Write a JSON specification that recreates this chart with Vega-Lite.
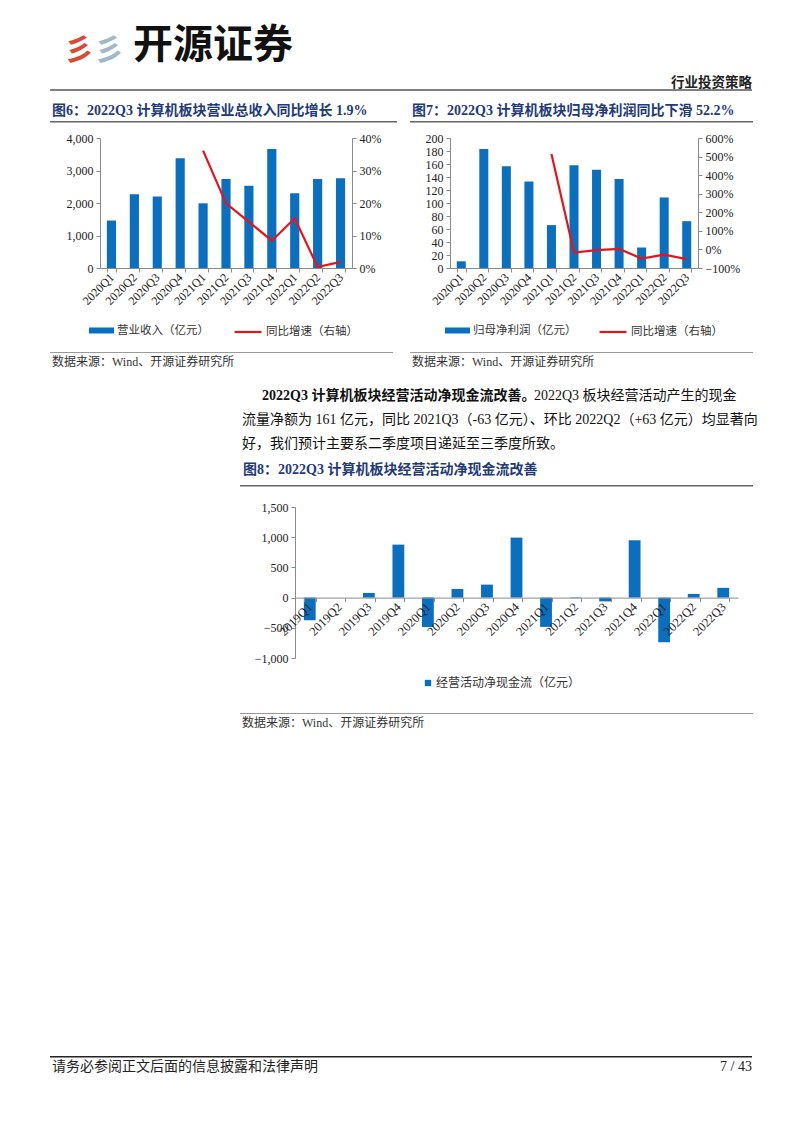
{
"$schema": "https://vega.github.io/schema/vega-lite/v6.json",
"padding": 0,
"background": "white",
"spacing": 0,
"resolve": {"scale": {"fill": "independent", "stroke": "independent"}},
"datasets": {
"empty": [],
"rev": [
{"q":"2020Q1","rev":1460,"yoy":null},
{"q":"2020Q2","rev":2270,"yoy":null},
{"q":"2020Q3","rev":2200,"yoy":null},
{"q":"2020Q4","rev":3380,"yoy":null},
{"q":"2021Q1","rev":1990,"yoy":0.361},
{"q":"2021Q2","rev":2735,"yoy":0.199},
{"q":"2021Q3","rev":2530,"yoy":0.142},
{"q":"2021Q4","rev":3660,"yoy":0.084},
{"q":"2022Q1","rev":2300,"yoy":0.153},
{"q":"2022Q2","rev":2742,"yoy":0.003},
{"q":"2022Q3","rev":2765,"yoy":0.019}],
"np": [
{"q":"2020Q1","np":10.3,"yoy":null},
{"q":"2020Q2","np":183,"yoy":null},
{"q":"2020Q3","np":156.5,"yoy":null},
{"q":"2020Q4","np":133,"yoy":null},
{"q":"2021Q1","np":66,"yoy":5.14},
{"q":"2021Q2","np":158,"yoy":-0.17},
{"q":"2021Q3","np":151,"yoy":-0.04},
{"q":"2021Q4","np":137,"yoy":0.03},
{"q":"2022Q1","np":31.5,"yoy":-0.49},
{"q":"2022Q2","np":108.5,"yoy":-0.28},
{"q":"2022Q3","np":72,"yoy":-0.522}],
"cf": [
{"q":"2019Q1","cf":-375},
{"q":"2019Q2","cf":0},
{"q":"2019Q3","cf":77},
{"q":"2019Q4","cf":877},
{"q":"2020Q1","cf":-485},
{"q":"2020Q2","cf":143},
{"q":"2020Q3","cf":215},
{"q":"2020Q4","cf":993},
{"q":"2021Q1","cf":-485},
{"q":"2021Q2","cf":-8},
{"q":"2021Q3","cf":-63},
{"q":"2021Q4","cf":949},
{"q":"2022Q1","cf":-739},
{"q":"2022Q2","cf":61},
{"q":"2022Q3","cf":161}],
"para": [
{"line":1,"seg":"b","text":"2022Q3 计算机板块经营活动净现金流改善。"},
{"line":1,"seg":"n1","text":"2022Q3 板块经营活动产生的现金"},
{"line":2,"seg":"n","text":"流量净额为 161 亿元，同比 2021Q3（-63 亿元）、环比 2022Q2（+63 亿元）均显著向"},
{"line":3,"seg":"n","text":"好，我们预计主要系二季度项目递延至三季度所致。"}]
},
"vconcat": [
{"hconcat": [
 {"width":50,"height":89,"data":{"name":"empty"},"mark":{"type":"point","opacity":0},
  "title":{"text":"彡","orient":"top","offset":-66,"dx":64,"font":"'Noto Sans CJK SC', sans-serif","fontSize":30,"fontWeight":"bold","color":"#D94A32"}},
 {"width":1,"height":89,"data":{"name":"empty"},"mark":{"type":"point","opacity":0},
  "title":{"text":"彡","orient":"top","offset":-66,"dx":44,"font":"'Noto Sans CJK SC', sans-serif","fontSize":30,"fontWeight":"bold","color":"#A3B8C6"}},
 {"width":350,"height":89,"data":{"name":"empty"},"mark":{"type":"point","opacity":0},
  "title":{"text":"开源证券","orient":"top","offset":-66,"dx":82,"font":"'Noto Sans CJK SC', sans-serif","fontSize":40,"fontWeight":"bold","color":"#111111"}},
 {"width":351,"height":89,"data":{"name":"empty"},"mark":{"type":"point","opacity":0},
  "title":{"text":"行业投资策略","orient":"top","anchor":"end","offset":-89,"font":"'Noto Sans CJK SC', sans-serif","fontSize":13.5,"fontWeight":"bold","color":"#222222"}}
 ], "spacing":0, "bounds":"flush"},

{"hconcat": [
 {"width":50,"height":32,"data":{"name":"empty"},"mark":{"type":"point","opacity":0}},
 {"width":351,"height":2,"view":{"fill":"#7f7f7f"},"data":{"name":"empty"},"mark":{"type":"point","opacity":0},
  "title":{"text":"图6：2022Q3 计算机板块营业总收入同比增长 1.9%","orient":"bottom","dx":2,"offset":13}},
 {"width":351,"height":2,"view":{"fill":"#7f7f7f"},"data":{"name":"empty"},"mark":{"type":"point","opacity":0},
  "title":{"text":"图7：2022Q3 计算机板块归母净利润同比下滑 52.2%","orient":"bottom","dx":11,"offset":13}}
 ], "spacing":0, "bounds":"flush"},

{"hconcat": [
 {"width":50,"height":11,"data":{"name":"empty"},"mark":{"type":"point","opacity":0}},
 {"width":347,"height":1.5,"view":{"fill":"#666666"},"data":{"name":"empty"},"mark":{"type":"point","opacity":0}},
 {"width":13,"height":1,"data":{"name":"empty"},"mark":{"type":"point","opacity":0}},
 {"width":343,"height":1.5,"view":{"fill":"#666666"},"data":{"name":"empty"},"mark":{"type":"point","opacity":0}}
 ], "spacing":0, "bounds":"flush"},

{"hconcat": [
 {"width":100,"height":214,"data":{"name":"empty"},"mark":{"type":"point","opacity":0}},
 {"width":252,"height":130,"data":{"name":"rev"},
  "encoding":{"x":{"field":"q","type":"ordinal","sort":null,"scale":{"paddingInner":0.6,"paddingOuter":0.3},
    "axis":{"labelAngle":-45,"labelAlign":"right","labelBaseline":"middle","tickBand":"extent"}}},
  "layer":[
   {"mark":{"type":"bar"},
    "encoding":{"y":{"field":"rev","type":"quantitative","scale":{"domain":[0,4000],"nice":false},"axis":{"values":[0,1000,2000,3000,4000],"format":",d"}},
      "fill":{"datum":"营业收入（亿元）","scale":{"range":["#0B6FBF"]},
        "legend":{"orient":"none","legendX":-11,"legendY":180,"symbolType":"M-1,-0.24H1V0.24H-1Z","symbolSize":625,"symbolStrokeWidth":0}}}},
   {"mark":{"type":"line","strokeWidth":2.2},
    "encoding":{"y":{"field":"yoy","type":"quantitative","scale":{"domain":[0,0.4],"nice":false},"axis":{"orient":"right","values":[0,0.1,0.2,0.3,0.4],"format":".0%"}},
      "stroke":{"datum":"同比增速（右轴）","scale":{"range":["#E8141B"]},
        "legend":{"orient":"none","legendX":133,"legendY":179,"symbolType":"M-1,0H1","symbolSize":729,"symbolStrokeWidth":2.2}}}}
  ],
  "resolve":{"scale":{"y":"independent"}}},
 {"width":98,"height":1,"data":{"name":"empty"},"mark":{"type":"point","opacity":0}},
 {"width":248,"height":130,"data":{"name":"np"},
  "encoding":{"x":{"field":"q","type":"ordinal","sort":null,"scale":{"paddingInner":0.6,"paddingOuter":0.3},
    "axis":{"labelAngle":-45,"labelAlign":"right","labelBaseline":"middle","tickBand":"extent"}}},
  "layer":[
   {"mark":{"type":"bar"},
    "encoding":{"y":{"field":"np","type":"quantitative","scale":{"domain":[0,200],"nice":false},"axis":{"values":[0,20,40,60,80,100,120,140,160,180,200],"format":"d"}},
      "fill":{"datum":"归母净利润（亿元）","scale":{"range":["#0B6FBF"]},
        "legend":{"orient":"none","legendX":-5,"legendY":180,"symbolType":"M-1,-0.24H1V0.24H-1Z","symbolSize":625,"symbolStrokeWidth":0}}}},
   {"mark":{"type":"line","strokeWidth":2.2},
    "encoding":{"y":{"field":"yoy","type":"quantitative","scale":{"domain":[-1,6],"nice":false},"axis":{"orient":"right","values":[-1,0,1,2,3,4,5,6],"format":".0%"}},
      "stroke":{"datum":"同比增速（右轴）","scale":{"range":["#E8141B"]},
        "legend":{"orient":"none","legendX":148,"legendY":179,"symbolType":"M-1,0H1","symbolSize":729,"symbolStrokeWidth":2.2}}}}
  ],
  "resolve":{"scale":{"y":"independent"}}}
 ], "spacing":0, "bounds":"flush", "resolve": {"scale": {"fill": "independent", "stroke": "independent"}}},

{"hconcat": [
 {"width":50,"height":32,"data":{"name":"empty"},"mark":{"type":"point","opacity":0}},
 {"width":343,"height":1,"view":{"fill":"#9a9a9a"},"data":{"name":"empty"},"mark":{"type":"point","opacity":0},
  "title":{"text":"数据来源：Wind、开源证券研究所","orient":"bottom","offset":4,"dx":2,"fontSize":12,"fontWeight":"normal","color":"#333333"}},
 {"width":17,"height":1,"data":{"name":"empty"},"mark":{"type":"point","opacity":0}},
 {"width":343,"height":1,"view":{"fill":"#9a9a9a"},"data":{"name":"empty"},"mark":{"type":"point","opacity":0},
  "title":{"text":"数据来源：Wind、开源证券研究所","orient":"bottom","offset":4,"dx":2,"fontSize":12,"fontWeight":"normal","color":"#333333"}}
 ], "spacing":0, "bounds":"flush"},

{"hconcat": [
 {"width":242,"height":101,"data":{"name":"empty"},"mark":{"type":"point","opacity":0}},
 {"width":510,"height":72,"data":{"name":"para"},
  "title":{"text":"图8：2022Q3 计算机板块经营活动净现金流改善","orient":"bottom","dx":1,"offset":7},
  "encoding":{"y":{"field":"line","type":"ordinal","axis":null},"text":{"field":"text"}},
  "layer":[
   {"transform":[{"filter":"datum.seg === 'b'"}],
    "mark":{"type":"text","align":"left","baseline":"middle","dx":-235,"font":"'Liberation Serif', 'Noto Sans CJK SC', serif","fontSize":14,"fontWeight":"bold","color":"#111111"}},
   {"transform":[{"filter":"datum.seg === 'n1'"}],
    "mark":{"type":"text","align":"left","baseline":"middle","dx":37,"font":"'Liberation Serif', 'Noto Sans CJK SC', serif","fontSize":14,"color":"#111111"}},
   {"transform":[{"filter":"datum.seg === 'n'"}],
    "mark":{"type":"text","align":"left","baseline":"middle","dx":-255,"font":"'Liberation Serif', 'Noto Sans CJK SC', serif","fontSize":14,"color":"#111111"}}
  ]}
 ], "spacing":0, "bounds":"flush"},

{"hconcat": [
 {"width":240,"height":16,"data":{"name":"empty"},"mark":{"type":"point","opacity":0}},
 {"width":513,"height":1.5,"view":{"fill":"#666666"},"data":{"name":"empty"},"mark":{"type":"point","opacity":0}}
 ], "spacing":0, "bounds":"flush"},

{"hconcat": [
 {"width":295,"height":206,"data":{"name":"empty"},"mark":{"type":"point","opacity":0}},
 {"width":443,"height":151,"data":{"name":"cf"},
  "mark":{"type":"bar"},
  "encoding":{
   "x":{"field":"q","type":"ordinal","sort":null,"scale":{"paddingInner":0.6,"paddingOuter":0.3},
    "axis":{"offset":-60.4,"zindex":1,"labelAngle":-45,"labelAlign":"right","labelBaseline":"middle","tickBand":"extent","labelFontSize":12.5}},
   "y":{"field":"cf","type":"quantitative","scale":{"domain":[-1000,1500],"nice":false},
    "axis":{"values":[-1000,-500,0,500,1000,1500],"format":",d"}},
   "fill":{"datum":"经营活动净现金流（亿元）","scale":{"range":["#0B6FBF"]},
    "legend":{"orient":"none","legendX":127,"legendY":170,"symbolType":"square","symbolSize":40,"symbolStrokeWidth":0,"labelFontSize":12,"labelOffset":2}}}}
 ], "spacing":0, "bounds":"flush", "resolve": {"scale": {"fill": "independent"}}},

{"hconcat": [
 {"width":240,"height":343,"data":{"name":"empty"},"mark":{"type":"point","opacity":0}},
 {"width":513,"height":1,"view":{"fill":"#9a9a9a"},"data":{"name":"empty"},"mark":{"type":"point","opacity":0},
  "title":{"text":"数据来源：Wind、开源证券研究所","orient":"bottom","offset":4,"dx":2,"fontSize":12,"fontWeight":"normal","color":"#333333"}}
 ], "spacing":0, "bounds":"flush"},

{"hconcat": [
 {"width":50,"height":77,"data":{"name":"empty"},"mark":{"type":"point","opacity":0}},
 {"width":351,"height":1.5,"view":{"fill":"#222222"},"data":{"name":"empty"},"mark":{"type":"point","opacity":0},
  "title":{"text":"请务必参阅正文后面的信息披露和法律声明","orient":"bottom","offset":2,"dx":2,"fontSize":14,"fontWeight":"normal","color":"#222222"}},
 {"width":351,"height":1.5,"view":{"fill":"#222222"},"data":{"name":"empty"},"mark":{"type":"point","opacity":0},
  "title":{"text":"7 / 43","orient":"bottom","anchor":"end","offset":2,"fontSize":14,"fontWeight":"normal","color":"#222222"}}
 ], "spacing":0, "bounds":"flush"}
],
"config":{
 "view":{"stroke":null},
 "concat":{"spacing":0},
 "axis":{"title":null,"grid":false,"labelFont":"'Liberation Serif', 'Times New Roman', serif","labelFontSize":12,"labelColor":"#222222","domainColor":"#8a8a8a","tickColor":"#8a8a8a","tickSize":4,"labelPadding":3},
 "legend":{"title":null,"padding":0,"labelFont":"'Noto Sans CJK SC', sans-serif","labelFontSize":11.5,"labelColor":"#333333","labelOffset":3},
 "title":{"font":"'Liberation Serif', 'Noto Sans CJK SC', serif","fontSize":14,"fontWeight":"bold","color":"#1F3A7A","anchor":"start","frame":"group"}
}
}
